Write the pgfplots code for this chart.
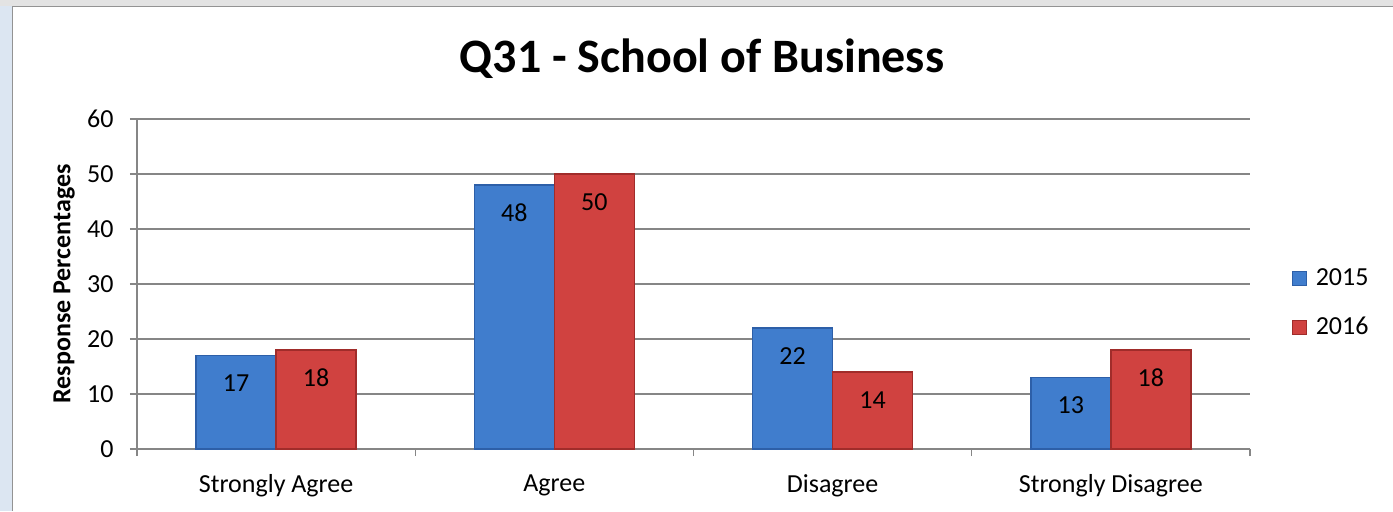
\documentclass[border=0pt]{standalone}
\usepackage{fontspec}
\setmainfont{Carlito}
\usepackage{pgfplots}
\pgfplotsset{compat=1.18}
\definecolor{bblue}{RGB}{64,125,205}
\definecolor{bblueD}{RGB}{45,95,168}
\definecolor{rred}{RGB}{208,66,64}
\definecolor{rredD}{RGB}{160,44,42}
\definecolor{gridc}{RGB}{134,134,134}
\definecolor{leftstrip}{RGB}{220,230,242}
\newcommand\fs{\fontsize{13}{15.6}\selectfont}
\begin{document}
\begin{tikzpicture}
\useasboundingbox (0,0) rectangle (696.5pt,255.5pt);
\fill[white] (0,0) rectangle (696.5pt,255.5pt);
\fill[gray!22] (0,252.5pt) rectangle (696.5pt,255.5pt);
\fill[leftstrip] (0,0) rectangle (6pt,252.5pt);
\draw[gray!85, line width=0.7pt] (6.3pt,0) -- (6.3pt,252.3pt) -- (696.5pt,252.3pt);
\begin{axis}[
  at={(68.5pt,31pt)}, anchor=south west,
  scale only axis, width=556.5pt, height=165pt,
  xmin=-0.5, xmax=3.5, ymin=0, ymax=60,
  ybar=0pt, bar width=40pt,
  xtick={-0.5,0.5,1.5,2.5,3.5},
  x tick label as interval=true,
  xticklabels={Strongly Agree,Agree,Disagree,Strongly Disagree},
  ytick={0,10,...,60},
  ymajorgrids, grid style={gridc, line width=0.6pt},
  axis x line*=bottom, axis y line*=left,
  axis line style={gridc, line width=0.6pt},
  tick style={gridc, line width=0.6pt},
  tick align=outside, major tick length=3.5pt,
  /pgf/number format/assume math mode=true,
  tick label style={font=\fs, text=black},
  yticklabel style={inner sep=0pt, xshift=-8pt},
  xticklabel style={inner sep=0pt, yshift=-9pt},
  title={\fontsize{24}{28}\selectfont\bfseries Q31 - School of Business},
  title style={at={(axis description cs:0.5076,1.148)}, anchor=center},
  ylabel={\fs\bfseries Response Percentages},
  every axis y label/.style={at={(axis description cs:-0.0655,0.5)}, rotate=90, anchor=center},
  nodes near coords,
  every node near coord/.append style={anchor=center, yshift=-14pt, font=\fs, text=black},
  legend style={at={(axis description cs:1.032,0.442)}, anchor=west, draw=none, fill=none, font=\fs, row sep=10pt, cells={anchor=west}, /tikz/every odd column/.append style={column sep=2.5pt}},
  legend image code/.code={\draw[#1, line width=0.4pt] (0pt,-3.5pt) rectangle (7pt,3.5pt);},
  clip=false,
]
\addplot[fill=bblue, draw=bblueD, line width=0.8pt] coordinates {(0,17) (1,48) (2,22) (3,13)};
\addplot[fill=rred, draw=rredD, line width=0.8pt] coordinates {(0,18) (1,50) (2,14) (3,18)};
\legend{2015,2016}
\end{axis}
\end{tikzpicture}
\end{document}
